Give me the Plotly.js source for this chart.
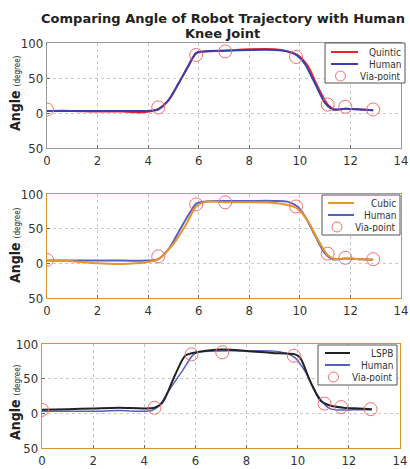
<!DOCTYPE html>
<html><head><meta charset="utf-8">
<script src="https://cdn.plot.ly/plotly-3.0.1.min.js"></script>
<style>html,body{margin:0;padding:0;background:#fff}#g{width:410px;height:469px}</style>
</head><body><div id="g"></div>
<script>
// ---- data ----
const humanT1 = [0, 1, 2, 3, 4, 4.4, 4.8, 5.2, 5.6, 5.9, 6.2, 7, 8, 9, 9.5, 9.9, 10.2, 10.6, 11, 11.3, 11.8, 12.4, 12.9];
const humanA1 = [3, 3, 3, 3, 3, 5, 18, 42, 68, 86, 88, 89, 90, 90, 88, 82, 70, 42, 14, 5, 6, 5, 4];
const quinticT = [0, 1, 2, 3, 3.8, 4.4, 4.8, 5.2, 5.6, 5.9, 6.3, 7, 8, 9, 9.5, 9.9, 10.3, 10.7, 11.1, 11.4, 11.8, 12.4, 12.9];
const quinticA = [3, 3, 2, 2, 1, 6, 18, 42, 68, 85, 88, 89, 91, 91, 88, 83, 68, 38, 12, 5, 6, 5, 4];

const humanT2 = [0, 1, 2, 3, 4, 4.4, 4.8, 5.2, 5.6, 5.9, 6.2, 7, 8, 9, 9.5, 9.9, 10.2, 10.6, 11, 11.3, 11.8, 12.4, 12.9];
const humanA2 = [4, 4, 4, 4, 4, 6, 20, 45, 70, 86, 89, 90, 90, 90, 89, 82, 68, 40, 14, 6, 7, 6, 5];
const cubicT = [0, 1, 2, 3, 3.5, 4, 4.4, 5, 5.5, 5.9, 6.3, 7, 8, 9, 9.5, 9.9, 10.3, 10.7, 11.1, 11.4, 11.8, 12.4, 12.9];
const cubicA = [4, 3, 0, -1, 0, 2, 6, 28, 56, 82, 89, 88, 88, 87, 84, 79, 62, 35, 12, 6, 7, 6, 5];

const humanT3 = [0, 1, 2, 3, 4.3, 4.6, 5, 5.5, 5.9, 6.1, 7, 8, 9, 9.5, 9.9, 10.3, 10.8, 11.2, 11.5, 12.2, 12.9];
const humanA3 = [3, 3, 3, 4, 4, 12, 35, 62, 84, 88, 90, 90, 90, 87, 80, 60, 25, 8, 5, 5, 5];
const lspbT = [0, 1, 2, 3, 4.4, 4.7, 5.2, 5.6, 5.9, 7, 8, 9, 9.9, 10.1, 10.5, 10.9, 11.2, 11.8, 12.4, 12.9];
const lspbA = [5, 6, 7, 8, 8, 15, 55, 83, 87, 92, 90, 87, 85, 80, 45, 18, 12, 8, 7, 6];

const viaT1 = [0, 4.4, 5.9, 7.05, 9.85, 11.1, 11.8, 12.9];
const viaA1 = [5, 8, 83, 88, 80, 12, 9, 5];
const viaT2 = [0, 4.4, 5.9, 7.05, 9.85, 11.1, 11.8, 12.9];
const viaA2 = [5, 10, 85, 88, 82, 14, 8, 6];
const viaT3 = [0, 4.4, 5.85, 7.05, 9.85, 11.05, 11.7, 12.85];
const viaA3 = [5, 8, 85, 88, 83, 14, 9, 6];

const legendNames1 = ['Quintic', 'Human', 'Via-point'];
const legendNames2 = ['Cubic', 'Human', 'Via-point'];
const legendNames3 = ['LSPB', 'Human', 'Via-point'];

const yTickVals = [-50, 0, 50, 100];
const yTickText = ['50', '0', '50', '100'];
const xTickVals = [0, 2, 4, 6, 8, 10, 12, 14];

// ---- styles ----
const red = '#e8232b', blue = '#3a3fb0', blue2 = '#5560c0', orange = '#e8952a', black = '#222222', viaC = '#f07070';
const tickFont = {family: 'DejaVu Sans Condensed, DejaVu Sans, sans-serif', size: 13, color: '#333'};
const H = 469, W = 410;
const px = v => v / W, py = v => 1 - v / H;

function line(x, y, name, color, xa, ya, w) {
  return {x, y, name, type: 'scatter', mode: 'lines', line: {color, width: w || 2, shape: 'spline', smoothing: 0.8},
    xaxis: xa, yaxis: ya, showlegend: false};
}
function via(x, y, xa, ya) {
  return {x, y, name: 'Via-point', type: 'scatter', mode: 'markers',
    marker: {symbol: 'circle-open', size: 13, color: viaC, line: {width: 1, color: viaC}},
    xaxis: xa, yaxis: ya, showlegend: false};
}

const data = [
  line(quinticT, quinticA, legendNames1[0], red, 'x', 'y'),
  line(humanT1, humanA1, legendNames1[1], blue, 'x', 'y'),
  via(viaT1, viaA1, 'x', 'y'),
  line(humanT2, humanA2, legendNames2[1], blue2, 'x2', 'y2'),
  line(cubicT, cubicA, legendNames2[0], orange, 'x2', 'y2'),
  via(viaT2, viaA2, 'x2', 'y2'),
  line(humanT3, humanA3, legendNames3[1], blue2, 'x3', 'y3', 1.5),
  line(lspbT, lspbA, legendNames3[0], black, 'x3', 'y3'),
  via(viaT3, viaA3, 'x3', 'y3'),
];

function xax(dom, anchor, lc) {
  return {domain: dom, anchor, range: [0, 14], tickvals: xTickVals, tickfont: tickFont,
    showgrid: true, gridcolor: '#c8c8c8', griddash: 'dot', gridwidth: 1, zeroline: false,
    showline: true, mirror: true, linecolor: lc, linewidth: 1.2, ticks: 'inside', ticklen: 3, tickcolor: '#666'};
}
function yax(dom, anchor, lc) {
  return {domain: dom, anchor, range: [-50, 100], tickvals: yTickVals, ticktext: yTickText, tickfont: tickFont,
    showgrid: true, gridcolor: '#c8c8c8', griddash: 'dot', gridwidth: 1, zeroline: false,
    showline: true, mirror: true, linecolor: lc, linewidth: 1.2, ticks: 'inside', ticklen: 3, tickcolor: '#666'};
}
function ytitle(y) {
  return {text: '<b>Angle</b> <span style="font-size:8px">(degree)</span>', textangle: -90,
    x: px(15), xanchor: 'center', y, yanchor: 'middle', xref: 'paper', yref: 'paper', showarrow: false,
    font: {family: 'DejaVu Sans Condensed, DejaVu Sans, sans-serif', size: 14, color: '#222'}};
}

// hand-built compact legend boxes (layout decoration)
const shapes = [], annotations = [];
function legendBox(box, names, colors, rows, lineX0, lineX1) {
  shapes.push({type: 'rect', xref: 'paper', yref: 'paper', x0: px(box[0]), x1: px(box[1]), y0: py(box[3]), y1: py(box[2]),
    fillcolor: '#fff', line: {color: '#555', width: 1}, layer: 'above'});
  for (let i = 0; i < 3; i++) {
    if (i < 2) {
      shapes.push({type: 'line', xref: 'paper', yref: 'paper', x0: px(lineX0), x1: px(lineX1), y0: py(rows[i]), y1: py(rows[i]),
        line: {color: colors[i], width: 2}, layer: 'above'});
    } else {
      const cx = (lineX0 + lineX1) / 2 - 4;
      shapes.push({type: 'circle', xref: 'paper', yref: 'paper', x0: px(cx - 5), x1: px(cx + 5), y0: py(rows[i] + 5), y1: py(rows[i] - 5),
        line: {color: viaC, width: 1}, layer: 'above'});
    }
    annotations.push({text: names[i], x: px(box[1] - 2), xanchor: 'right', y: py(rows[i]), yanchor: 'middle',
      height: 10, xref: 'paper', yref: 'paper', showarrow: false,
      font: {family: 'DejaVu Sans Condensed, DejaVu Sans, sans-serif', size: 10, color: '#333'}});
  }
}
legendBox([325, 405, 43, 83], legendNames1, [red, blue], [52, 64, 76], 331, 358);
legendBox([322, 400, 195, 235], legendNames2, [orange, blue2], [203, 215, 227], 328, 354);
legendBox([318, 397, 345, 385], legendNames3, [black, blue2], [353, 365, 377], 325, 350);

annotations.push(ytitle(py(93)), ytitle(py(245)), ytitle(py(402)));
annotations.push({text: '<b>Knee Joint</b>', x: px(222), xanchor: 'center', y: py(33), yanchor: 'middle',
  xref: 'paper', yref: 'paper', showarrow: false, font: {family: 'DejaVu Sans, sans-serif', size: 13, color: '#222'}});

const layout = {
  width: W, height: H, margin: {l: 0, r: 0, t: 0, b: 0}, paper_bgcolor: '#fff', plot_bgcolor: '#fff',
  showlegend: false,
  title: {text: '<b>Comparing Angle of Robot Trajectory with Human</b>',
    x: 223 / W, xanchor: 'center', y: py(18), yanchor: 'middle',
    font: {family: 'DejaVu Sans, sans-serif', size: 13, color: '#222'}},
  xaxis: xax([px(47), px(401)], 'y', '#999'),
  yaxis: yax([py(148), py(43)], 'x', '#999'),
  xaxis2: xax([px(47), px(401)], 'y2', '#d9922e'),
  yaxis2: yax([py(298), py(194)], 'x2', '#d9922e'),
  xaxis3: xax([px(42), px(400)], 'y3', '#d9922e'),
  yaxis3: yax([py(448), py(344)], 'x3', '#d9922e'),
  shapes, annotations,
};
Plotly.newPlot('g', data, layout, {displayModeBar: false, staticPlot: true});
</script></body></html>
